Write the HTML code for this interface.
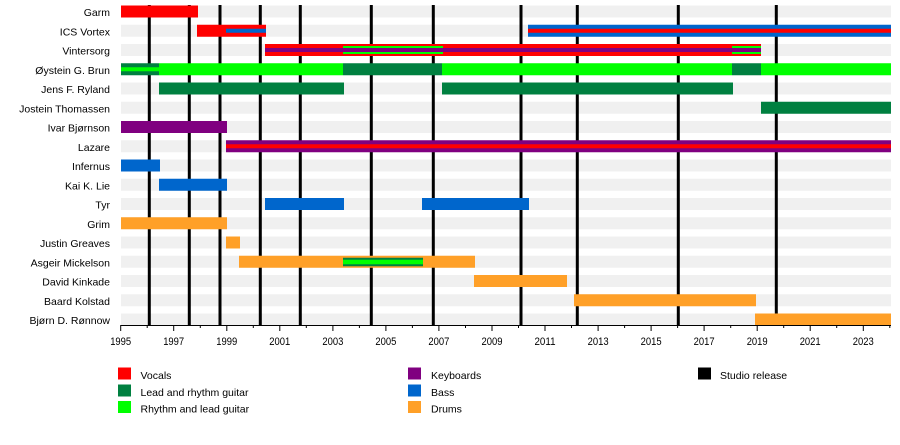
<!DOCTYPE html>
<html><head><meta charset="utf-8"><style>
html,body{margin:0;padding:0;background:#fff;}
svg{display:block;font-family:"Liberation Sans",Arial,sans-serif;}
</style></head><body>
<svg width="900" height="445" viewBox="0 0 900 445" xmlns="http://www.w3.org/2000/svg">
<!-- background stripes -->
<g fill="#f0f0f0">
<rect x="121" y="5.5" width="770" height="12"/>
<rect x="121" y="24.75" width="770" height="12"/>
<rect x="121" y="44" width="770" height="12"/>
<rect x="121" y="63.25" width="770" height="12"/>
<rect x="121" y="82.5" width="770" height="12"/>
<rect x="121" y="101.75" width="770" height="12"/>
<rect x="121" y="121" width="770" height="12"/>
<rect x="121" y="140.25" width="770" height="12"/>
<rect x="121" y="159.5" width="770" height="12"/>
<rect x="121" y="178.75" width="770" height="12"/>
<rect x="121" y="198" width="770" height="12"/>
<rect x="121" y="217.25" width="770" height="12"/>
<rect x="121" y="236.5" width="770" height="12"/>
<rect x="121" y="255.75" width="770" height="12"/>
<rect x="121" y="275" width="770" height="12"/>
<rect x="121" y="294.25" width="770" height="12"/>
<rect x="121" y="313.5" width="770" height="12"/>
</g>
<!-- studio release lines -->
<g stroke="#000" stroke-width="3">
<line x1="149.3" y1="5" x2="149.3" y2="325"/>
<line x1="189.3" y1="5" x2="189.3" y2="325"/>
<line x1="220" y1="5" x2="220" y2="325"/>
<line x1="260.3" y1="5" x2="260.3" y2="325"/>
<line x1="300.3" y1="5" x2="300.3" y2="325"/>
<line x1="371.3" y1="5" x2="371.3" y2="325"/>
<line x1="433.3" y1="5" x2="433.3" y2="325"/>
<line x1="521" y1="5" x2="521" y2="325"/>
<line x1="577.3" y1="5" x2="577.3" y2="325"/>
<line x1="678.3" y1="5" x2="678.3" y2="325"/>
<line x1="776.3" y1="5" x2="776.3" y2="325"/>
</g>
<!-- bars -->
<!-- Garm -->
<rect x="121" y="5.5" width="77" height="12" fill="#ff0000"/>
<!-- ICS Vortex -->
<rect x="197" y="24.75" width="69" height="12" fill="#ff0000"/>
<rect x="226" y="28.75" width="40" height="4" fill="#0066cc"/>
<rect x="528" y="24.75" width="363" height="12" fill="#0066cc"/>
<rect x="528" y="28.75" width="363" height="4" fill="#ff0000"/>
<!-- Vintersorg -->
<rect x="265" y="44" width="496" height="12" fill="#ff0000"/>
<rect x="343" y="46" width="100" height="8" fill="#00ff00"/>
<rect x="732" y="46" width="29" height="8" fill="#00ff00"/>
<rect x="265" y="48" width="496" height="4" fill="#800080"/>
<!-- Øystein -->
<rect x="121" y="63.25" width="38" height="12" fill="#008040"/>
<rect x="121" y="67.25" width="38" height="4" fill="#00ff00"/>
<rect x="159" y="63.25" width="184" height="12" fill="#00ff00"/>
<rect x="343" y="63.25" width="99" height="12" fill="#008040"/>
<rect x="442" y="63.25" width="290" height="12" fill="#00ff00"/>
<rect x="732" y="63.25" width="29" height="12" fill="#008040"/>
<rect x="761" y="63.25" width="130" height="12" fill="#00ff00"/>
<!-- Jens -->
<rect x="159" y="82.5" width="185" height="12" fill="#008040"/>
<rect x="442" y="82.5" width="291" height="12" fill="#008040"/>
<!-- Jostein -->
<rect x="761" y="101.75" width="130" height="12" fill="#008040"/>
<!-- Ivar -->
<rect x="121" y="121" width="106" height="12" fill="#800080"/>
<!-- Lazare -->
<rect x="226" y="140.25" width="665" height="12" fill="#800080"/>
<rect x="226" y="144.25" width="665" height="4" fill="#ff0000"/>
<!-- Infernus -->
<rect x="121" y="159.5" width="39" height="12" fill="#0066cc"/>
<!-- Kai -->
<rect x="159" y="178.75" width="68" height="12" fill="#0066cc"/>
<!-- Tyr -->
<rect x="265" y="198" width="79" height="12" fill="#0066cc"/>
<rect x="422" y="198" width="107" height="12" fill="#0066cc"/>
<!-- Grim -->
<rect x="121" y="217.25" width="106" height="12" fill="#ffa028"/>
<!-- Justin -->
<rect x="226" y="236.5" width="14" height="12" fill="#ffa028"/>
<!-- Asgeir -->
<rect x="239" y="255.75" width="236" height="12" fill="#ffa028"/>
<rect x="343" y="257.75" width="80" height="8.5" fill="#008040"/>
<rect x="343" y="259.75" width="80" height="4.5" fill="#00ff00"/>
<!-- David -->
<rect x="474" y="275" width="93" height="12" fill="#ffa028"/>
<!-- Baard -->
<rect x="574" y="294.25" width="182" height="12" fill="#ffa028"/>
<!-- Bjørn -->
<rect x="755" y="313.5" width="136" height="12" fill="#ffa028"/>

<!-- axis -->
<line x1="120.7" y1="325.5" x2="891" y2="325.5" stroke="#000" stroke-width="1"/>
<g stroke="#000" stroke-width="1">
<line x1="120.7" y1="325" x2="120.7" y2="331"/>
<line x1="147.2" y1="325" x2="147.2" y2="328"/>
<line x1="173.7" y1="325" x2="173.7" y2="331"/>
<line x1="200.3" y1="325" x2="200.3" y2="328"/>
<line x1="226.8" y1="325" x2="226.8" y2="331"/>
<line x1="253.3" y1="325" x2="253.3" y2="328"/>
<line x1="279.8" y1="325" x2="279.8" y2="331"/>
<line x1="306.3" y1="325" x2="306.3" y2="328"/>
<line x1="332.9" y1="325" x2="332.9" y2="331"/>
<line x1="359.4" y1="325" x2="359.4" y2="328"/>
<line x1="385.9" y1="325" x2="385.9" y2="331"/>
<line x1="412.4" y1="325" x2="412.4" y2="328"/>
<line x1="438.9" y1="325" x2="438.9" y2="331"/>
<line x1="465.5" y1="325" x2="465.5" y2="328"/>
<line x1="492.0" y1="325" x2="492.0" y2="331"/>
<line x1="518.5" y1="325" x2="518.5" y2="328"/>
<line x1="545.0" y1="325" x2="545.0" y2="331"/>
<line x1="571.5" y1="325" x2="571.5" y2="328"/>
<line x1="598.1" y1="325" x2="598.1" y2="331"/>
<line x1="624.6" y1="325" x2="624.6" y2="328"/>
<line x1="651.1" y1="325" x2="651.1" y2="331"/>
<line x1="677.6" y1="325" x2="677.6" y2="328"/>
<line x1="704.1" y1="325" x2="704.1" y2="331"/>
<line x1="730.7" y1="325" x2="730.7" y2="328"/>
<line x1="757.2" y1="325" x2="757.2" y2="331"/>
<line x1="783.7" y1="325" x2="783.7" y2="328"/>
<line x1="810.2" y1="325" x2="810.2" y2="331"/>
<line x1="836.7" y1="325" x2="836.7" y2="328"/>
<line x1="863.3" y1="325" x2="863.3" y2="331"/>
<line x1="889.8" y1="325" x2="889.8" y2="328"/>
</g>
<g font-size="11" fill="#000" text-anchor="middle">
<text x="120.7" y="345" textLength="21" lengthAdjust="spacingAndGlyphs">1995</text>
<text x="173.7" y="345" textLength="21" lengthAdjust="spacingAndGlyphs">1997</text>
<text x="226.8" y="345" textLength="21" lengthAdjust="spacingAndGlyphs">1999</text>
<text x="279.8" y="345" textLength="21" lengthAdjust="spacingAndGlyphs">2001</text>
<text x="332.9" y="345" textLength="21" lengthAdjust="spacingAndGlyphs">2003</text>
<text x="385.9" y="345" textLength="21" lengthAdjust="spacingAndGlyphs">2005</text>
<text x="438.9" y="345" textLength="21" lengthAdjust="spacingAndGlyphs">2007</text>
<text x="492.0" y="345" textLength="21" lengthAdjust="spacingAndGlyphs">2009</text>
<text x="545.0" y="345" textLength="21" lengthAdjust="spacingAndGlyphs">2011</text>
<text x="598.1" y="345" textLength="21" lengthAdjust="spacingAndGlyphs">2013</text>
<text x="651.1" y="345" textLength="21" lengthAdjust="spacingAndGlyphs">2015</text>
<text x="704.1" y="345" textLength="21" lengthAdjust="spacingAndGlyphs">2017</text>
<text x="757.2" y="345" textLength="21" lengthAdjust="spacingAndGlyphs">2019</text>
<text x="810.2" y="345" textLength="21" lengthAdjust="spacingAndGlyphs">2021</text>
<text x="863.3" y="345" textLength="21" lengthAdjust="spacingAndGlyphs">2023</text>
</g>
<!-- row labels -->
<g font-size="10.5" fill="#000" text-anchor="end">
<text x="110" y="16">Garm</text>
<text x="110" y="35.25">ICS Vortex</text>
<text x="110" y="54.5">Vintersorg</text>
<text x="110" y="73.75">Øystein G. Brun</text>
<text x="110" y="93">Jens F. Ryland</text>
<text x="110" y="112.25">Jostein Thomassen</text>
<text x="110" y="131.5">Ivar Bjørnson</text>
<text x="110" y="150.75">Lazare</text>
<text x="110" y="170">Infernus</text>
<text x="110" y="189.25">Kai K. Lie</text>
<text x="110" y="208.5">Tyr</text>
<text x="110" y="227.75">Grim</text>
<text x="110" y="247">Justin Greaves</text>
<text x="110" y="266.25">Asgeir Mickelson</text>
<text x="110" y="285.5">David Kinkade</text>
<text x="110" y="304.75">Baard Kolstad</text>
<text x="110" y="324">Bjørn D. Rønnow</text>
</g>
<!-- legend -->
<rect x="118" y="367.5" width="13" height="12" fill="#ff0000"/>
<rect x="118" y="384.5" width="13" height="12" fill="#008040"/>
<rect x="118" y="401" width="13" height="12" fill="#00ff00"/>
<rect x="408" y="367.5" width="13" height="12" fill="#800080"/>
<rect x="408" y="384.5" width="13" height="12" fill="#0066cc"/>
<rect x="408" y="401" width="13" height="12" fill="#ffa028"/>
<rect x="698" y="367.5" width="13" height="12" fill="#000"/>
<g font-size="10.5" fill="#000">
<text x="140.5" y="379">Vocals</text>
<text x="140.5" y="396">Lead and rhythm guitar</text>
<text x="140.5" y="412.5">Rhythm and lead guitar</text>
<text x="431" y="379">Keyboards</text>
<text x="431" y="396">Bass</text>
<text x="431" y="412.5">Drums</text>
<text x="720" y="379">Studio release</text>
</g>
</svg>
</body></html>
